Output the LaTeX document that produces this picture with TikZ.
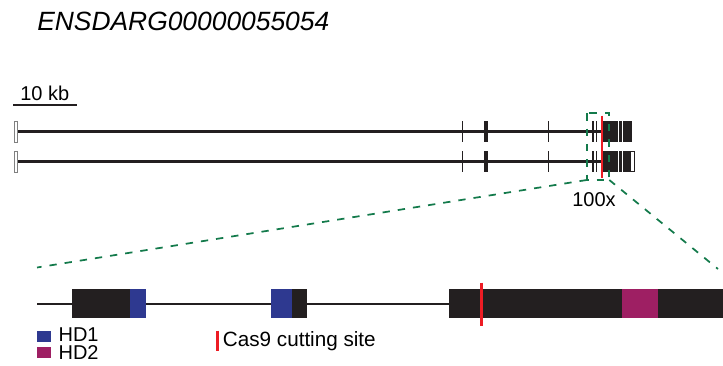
\documentclass[tikz,border=0pt]{standalone}
\usepackage{fontspec}
\setmainfont{Liberation Sans}
\definecolor{dk}{HTML}{231F20}
\definecolor{hdone}{HTML}{2E3990}
\definecolor{hdtwo}{HTML}{9E1F63}
\definecolor{cut}{HTML}{ED1C24}
\definecolor{grn}{HTML}{137A4B}
\tikzset{
  lbl/.style={anchor=base west, inner sep=0pt, text=black},
  exonbox/.style={fill=dk, draw=none},
  zoomline/.style={draw=grn, line width=1.3pt, dash pattern=on 5.5pt off 6pt},
  intron/.style={draw=dk, line width=2.25pt},
}
\begin{document}
\begin{tikzpicture}[x=0.75pt,y=-0.75pt]
\useasboundingbox (0,0) rectangle (723,366);
% title
\node[lbl] (title) at (37,31) {\fontsize{19.8}{22}\selectfont\itshape ENSDARG00000055054};
% scale bar
\node[lbl] (kb) at (20,100.5) {\fontsize{15}{16}\selectfont 10 kb};
\coordinate (sbl) at (13,105);
\coordinate (sbr) at (77,105);
\draw[dk, line width=1.5pt] (sbl) -- (sbr);
% transcripts
\foreach \y/\r in {131.7/1,161.7/2}{
  \draw[intron] (17,\y) -- (602,\y);
  \draw[draw=gray, fill=white, line width=0.5pt] (14,\y-10.5) rectangle (17.6,\y+10.5);
  \fill[exonbox] (461.9,\y-10.5) rectangle (463.4,\y+10.5);
  \fill[exonbox] (484.3,\y-10.5) rectangle (488.3,\y+10.5);
  \fill[exonbox] (547.6,\y-10.5) rectangle (549.1,\y+10.5);
  \fill[exonbox] (592.3,\y-10.5) rectangle (594,\y+10.5);
  \fill[exonbox] (595.7,\y-10.5) rectangle (597.3,\y+10.5);
  \fill[exonbox] (602.5,\y-10.5) rectangle (617.7,\y+10.5);
  \fill[exonbox] (618.7,\y-10.5) rectangle (621.7,\y+10.5);
}
\fill[exonbox] (622.7,121.2) rectangle (631.7,142.2);
\fill[exonbox] (622.7,151.2) rectangle (630.2,172.2);
\draw[draw=dk, fill=white, line width=0.8pt] (630.2,151.6) rectangle (634.6,171.8);
% cut in overview
\draw[cut, line width=1.8pt] (601.7,115.7) -- (601.7,177.7);
% zoom box
\draw[zoomline] (586.7,113.3) rectangle (609.3,180);
\coordinate (bl) at (586.7,180);
\coordinate (br) at (609.3,180);
\coordinate (zl) at (37,267.5);
\coordinate (zr) at (718,269);
\draw[zoomline] (bl) -- (zl);
\draw[zoomline] (br) -- (zr);
\node[lbl] (mag) at (572,207) {\fontsize{15}{17}\selectfont 100x};
% zoomed gene
\draw[dk, line width=2pt] (37,304) -- (723,304);
\fill[exonbox] (72,289) rectangle (129.7,317.7);
\fill[hdone] (129.7,289) rectangle (145.7,317.7);
\fill[hdone] (271,289) rectangle (292,317.7);
\fill[exonbox] (292,289) rectangle (306.7,317.7);
\fill[exonbox] (449,289) rectangle (723,317.7);
\fill[hdtwo] (622,289) rectangle (657.7,317.7);
\draw[cut, line width=2.2pt] (481.3,282.7) -- (481.3,325.7);
% legend
\fill[hdone] (37,331) rectangle (51,341.7);
\fill[hdtwo] (37,347.3) rectangle (51,357.7);
\node[lbl] (hd1) at (58.3,341) {\fontsize{15}{17}\selectfont HD1};
\node[lbl] (hd2) at (58.3,359) {\fontsize{15}{17}\selectfont HD2};
\draw[cut, line width=1.6pt] (217.5,330.7) -- (217.5,350.7);
\node[lbl] (cas) at (222.7,346) {\fontsize{15.5}{17}\selectfont Cas9 cutting site};
\end{tikzpicture}
\end{document}
